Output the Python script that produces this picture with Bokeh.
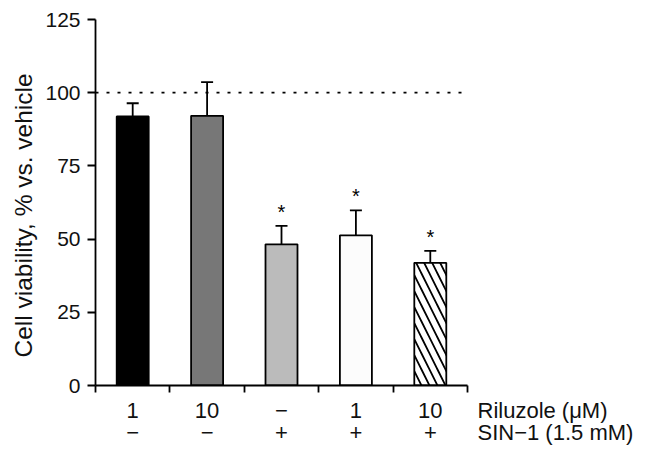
from bokeh.plotting import figure
from bokeh.layouts import column
from bokeh.models import Range1d, FixedTicker, Span, Whisker, TeeHead, ColumnDataSource, Title
from bokeh.embed import file_html
from bokeh.resources import INLINE
from bokeh.core.properties import value

# --- data ---
riluzole = ["1", "10", "\u2212", "1", "10"]
sin1 = ["\u2212", "\u2212", "+", "+", "+"]
viability = [91.9, 92.1, 48.2, 51.3, 41.9]
sem = [4.5, 11.5, 6.3, 8.5, 4.1]
significant = [False, False, True, True, True]
bar_colors = ["#000000", "#777777", "#bbbbbb", "#fcfcfc", "#ffffff"]
bar_hatch = [" ", " ", " ", " ", "\\"]
y_ticks = [0, 25, 50, 75, 100, 125]
row_labels = ["Riluzole (\u03bcM)", "SIN\u22121 (1.5 mM)"]
vehicle_level = 100
y_label = "Cell viability,  % vs. vehicle"

FONT = "Liberation Sans"
TXT = "#111111"
W = 647
LEFT = 95
FRAME_W = 372
TOP_H = 395
BOT_H = 451 - TOP_H

n = len(viability)
xs = [i + 0.5 for i in range(n)]
tops = [v + e for v, e in zip(viability, sem)]

src = ColumnDataSource(dict(x=xs, v=viability, top=tops, color=bar_colors, hatch=bar_hatch))

p = figure(width=W, height=TOP_H, output_backend="svg", toolbar_location=None,
           x_range=Range1d(0, n), y_range=Range1d(0, 125),
           min_border_left=LEFT, min_border_right=W - LEFT - FRAME_W, min_border_top=19,
           min_border_bottom=10)
p.frame_align = False
p.outline_line_color = None
p.xgrid.grid_line_color = None
p.ygrid.grid_line_color = None
p.background_fill_color = "white"

p.vbar(x="x", top="v", bottom=0, width=0.43, source=src, fill_color="color",
       line_color="black", line_width=1.8, hatch_pattern="hatch", hatch_color="black",
       hatch_scale=16, hatch_weight=1.8)

w = Whisker(base="x", lower="v", upper="top", dimension="height", source=src,
            line_color="black", line_width=1.8,
            upper_head=TeeHead(size=12, line_color="black", line_width=1.8), lower_head=None)
p.add_layout(w)

p.add_layout(Span(location=vehicle_level, dimension="width", line_color="black",
                  line_width=1.8, line_dash="3 8"))

star_x = [x for x, s in zip(xs, significant) if s]
star_y = [t for t, s in zip(tops, significant) if s]
p.text(x=star_x, y=star_y, text=["*"] * len(star_x), text_align="center",
       text_baseline="middle", y_offset=-14, text_font=value(FONT), text_font_size="20px",
       text_color="black")

# axes
p.yaxis.ticker = FixedTicker(ticks=y_ticks)
p.yaxis.major_label_text_font = FONT
p.yaxis.major_label_text_font_size = "21px"
p.yaxis.major_label_text_color = TXT
p.yaxis.major_label_standoff = 7
p.yaxis.major_tick_out = 8
p.yaxis.major_tick_in = 0
p.yaxis.minor_tick_line_color = None
p.yaxis.axis_line_width = 1.8
p.yaxis.major_tick_line_width = 1.8

p.add_layout(Title(text=y_label, align="left", offset=28, standoff=12,
                   text_font=FONT, text_font_size="24.5px", text_font_style="normal",
                   text_color=TXT), "left")

p.xaxis.ticker = FixedTicker(ticks=list(range(n + 1)))
p.xaxis.major_label_text_font_size = "1px"
p.xaxis.major_label_text_color = None
p.xaxis.major_label_standoff = 0
p.xaxis.major_tick_out = 7
p.xaxis.major_tick_in = 0
p.xaxis.minor_tick_line_color = None
p.xaxis.axis_line_width = 1.8
p.xaxis.major_tick_line_width = 1.8

# label strip under the axis (same x scale)
bot_w = W - LEFT
q = figure(width=W, height=BOT_H, output_backend="svg", toolbar_location=None,
           x_range=Range1d(0, n * bot_w / FRAME_W), y_range=Range1d(BOT_H, 0),
           x_axis_type=None, y_axis_type=None,
           min_border_left=LEFT, min_border_right=0, min_border_top=0, min_border_bottom=0)
q.frame_align = False
q.outline_line_color = None
q.xgrid.grid_line_color = None
q.ygrid.grid_line_color = None

row_y = [15, 37]
q.text(x=xs, y=[row_y[0]] * n, text=riluzole, text_align="center", text_baseline="middle",
       text_font=value(FONT), text_font_size="22px", text_color=TXT)
q.text(x=xs, y=[row_y[1]] * n, text=sin1, text_align="center", text_baseline="middle",
       text_font=value(FONT), text_font_size="22px", text_color=TXT)
q.text(x=[n, n], y=row_y, text=row_labels, text_align="left", text_baseline="middle",
       x_offset=10, text_font=value(FONT), text_font_size="22px", text_color=TXT)

layout = column(p, q, spacing=0)
open("out.html", "w").write(file_html(layout, INLINE))
